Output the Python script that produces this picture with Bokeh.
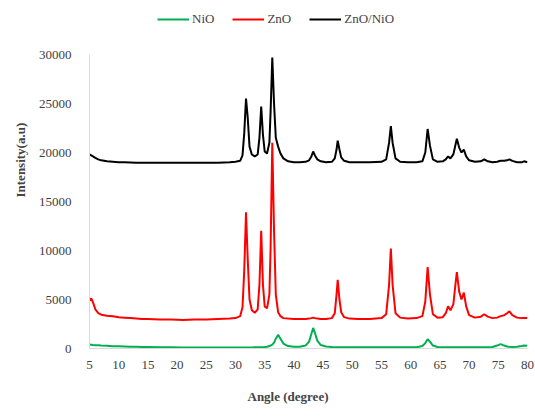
from bokeh.plotting import figure
from bokeh.layouts import column
from bokeh.models import Range1d, FixedTicker, Legend, LegendItem, Title
from bokeh.embed import file_html
from bokeh.resources import INLINE

# 2-theta angles (degree)
angle = [5.0, 5.3, 5.6, 6.0, 6.5, 7.0, 8.0, 9.0, 10, 11,
         12, 13, 14, 15, 17, 19, 21, 23, 25, 27,
         29, 30, 30.8, 31.2, 31.5, 31.8, 32.1, 32.4, 32.8, 33.3,
         33.8, 34.1, 34.4, 34.7, 35.0, 35.4, 35.8, 36.0, 36.3, 36.6,
         36.9, 37.3, 37.7, 38.2, 39, 40, 41, 42, 42.6, 43.0,
         43.3, 43.6, 44.0, 44.6, 45.5, 46.5, 47.0, 47.3, 47.5, 47.8,
         48.1, 48.6, 49.5, 51, 53, 55, 55.8, 56.3, 56.6, 56.9,
         57.4, 58.2, 59.5, 61, 62.0, 62.5, 62.9, 63.3, 63.8, 64.6,
         65.5, 66.0, 66.4, 66.8, 67.3, 67.6, 67.9, 68.3, 68.7, 69.1,
         69.5, 70.0, 71, 72.0, 72.6, 73.2, 74, 74.8, 75.4, 76.0,
         76.5, 76.9, 77.4, 78.2, 79.0, 79.4, 80]

zno = [4900, 5100, 4700, 4000, 3600, 3450, 3350, 3300, 3200, 3150,
       3100, 3050, 3000, 3000, 2950, 2950, 2900, 2950, 2950, 3000,
       3050, 3100, 3300, 4200, 8000, 13900, 9000, 5000, 3900, 3650,
       4000, 6500, 12000, 6500, 4300, 4100, 5500, 10000, 21000, 12000,
       5500, 3700, 3300, 3100, 3050, 3000, 3000, 3000, 3050, 3100,
       3150, 3100, 3050, 3000, 3000, 3100, 3600, 5500, 7000, 5000,
       3700, 3200, 3050, 3000, 3000, 3100, 3500, 6500, 10200, 6500,
       3600, 3150, 3050, 3100, 3300, 4800, 8300, 5500, 3500, 3150,
       3200, 3600, 4300, 3900, 4500, 6200, 7800, 5800, 5000, 5700,
       4300, 3400, 3150, 3250, 3500, 3250, 3100, 3150, 3300, 3400,
       3600, 3800, 3400, 3150, 3100, 3100, 3100]

zno_nio = [19800, 19700, 19600, 19450, 19300, 19200, 19100, 19050, 19000, 19000,
           18980, 18950, 18950, 18950, 18950, 18950, 18950, 18950, 18950, 18950,
           19000, 19050, 19150, 19700, 22000, 25500, 23500, 20600, 19800, 19600,
           19800, 21500, 24700, 21800, 20100, 19900, 21000, 24000, 29700, 25000,
           21500, 20600, 19900, 19400, 19100, 19000, 19000, 19050, 19200, 19600,
           20100, 19700, 19300, 19100, 19000, 19050, 19400, 20300, 21200, 20300,
           19500, 19150, 19000, 19000, 19000, 19050, 19300, 21000, 22700, 21000,
           19400, 19050, 19000, 19000, 19100, 20000, 22400, 20700, 19300, 19050,
           19100, 19300, 19600, 19400, 19800, 20600, 21400, 20500, 20000, 20300,
           19600, 19200, 19050, 19100, 19300, 19100, 19000, 19050, 19150, 19150,
           19200, 19300, 19150, 19000, 19000, 19100, 19000]

nio = [400, 380, 360, 340, 320, 300, 270, 240, 220, 200,
       180, 170, 160, 150, 130, 120, 110, 110, 100, 100,
       100, 110, 110, 110, 110, 110, 110, 110, 110, 120,
       120, 130, 130, 140, 150, 180, 250, 300, 400, 600,
       1000, 1400, 1000, 500, 250, 170, 170, 300, 700, 1500,
       2100, 1600, 800, 350, 200, 150, 140, 130, 130, 130,
       130, 130, 120, 120, 120, 120, 120, 120, 120, 120,
       120, 120, 120, 130, 250, 550, 950, 700, 300, 160,
       130, 130, 130, 130, 130, 130, 130, 130, 130, 130,
       130, 120, 120, 120, 120, 120, 150, 300, 450, 300,
       200, 170, 150, 170, 250, 300, 280]

series_names = ["NiO", "ZnO", "ZnO/NiO"]
series_colors = ["#00b050", "#ff0000", "#000000"]
series_values = [nio, zno, zno_nio]
x_ticks = list(range(5, 81, 5))
y_ticks = [0, 5000, 10000, 15000, 20000, 25000, 30000]

assert len(angle) == len(zno) == len(zno_nio) == len(nio)

FONT = "Liberation Serif"

# ---- legend strip on top (keys share the chart's x scale; data lie outside its y range so only the key shows) ----
lg = figure(width=535, height=40, output_backend="svg", toolbar_location=None,
            x_range=Range1d(5, 80), y_range=Range1d(-2, -1),
            x_axis_type=None, y_axis_type=None,
            min_border_left=0, min_border_right=0, min_border_top=0, min_border_bottom=0)
lg.outline_line_color = None
lg.xgrid.visible = False
lg.ygrid.visible = False
key_renderers = [lg.line(angle, ys, line_color=c, line_width=2)
                 for ys, c in zip(series_values, series_colors)]
legend = Legend(items=[LegendItem(label=n, renderers=[r]) for n, r in zip(series_names, key_renderers)],
                orientation="horizontal", location=(68, 13),
                label_text_font=FONT, label_text_font_size="13px",
                glyph_width=32, glyph_height=14, label_standoff=3, spacing=18,
                padding=0, margin=0, border_line_color=None,
                background_fill_alpha=0)
lg.add_layout(legend, "center")

# ---- main chart ----
p = figure(width=535, height=379, output_backend="svg", toolbar_location=None,
           x_range=Range1d(5, 80), y_range=Range1d(0, 30000),
           min_border_left=89, min_border_right=8, min_border_top=14,
           min_border_bottom=71)
p.outline_line_color = None
p.xgrid.visible = False
p.ygrid.visible = False

for ys, c in zip(series_values, series_colors):
    p.line(angle, ys, line_color=c, line_width=2)

for ax in (p.xaxis[0], p.yaxis[0]):
    ax.axis_line_color = "#d9d9d9"
    ax.axis_line_width = 1
    ax.major_tick_line_color = None
    ax.minor_tick_line_color = None
    ax.major_label_text_font = FONT
    ax.major_label_text_font_size = "13px"
    ax.major_label_text_color = "#404040"

p.xaxis.ticker = FixedTicker(ticks=x_ticks)
p.yaxis.ticker = FixedTicker(ticks=y_ticks)
p.xaxis.major_label_standoff = 6
p.yaxis.major_label_standoff = 12

ytitle = Title(text="Intensity(a.u)", text_font=FONT, text_font_size="13px",
               text_font_style="bold", align="left", offset=151, standoff=15)
p.add_layout(ytitle, "left")
xtitle = Title(text="Angle (degree)", text_font=FONT, text_font_size="13px",
               text_font_style="bold", align="left", offset=158, standoff=30)
p.add_layout(xtitle, "below")

layout = column(lg, p, spacing=0)
open("out.html", "w").write(file_html(layout, INLINE))
